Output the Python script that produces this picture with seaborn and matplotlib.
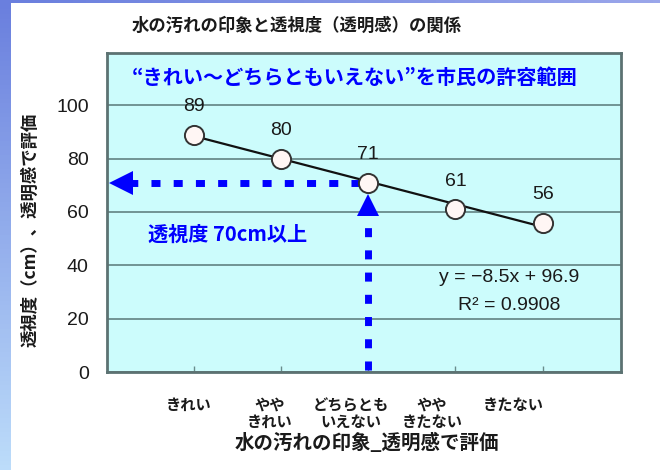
import numpy as np
import pandas as pd
import matplotlib
matplotlib.use("Agg")
import matplotlib.pyplot as plt
from matplotlib.colors import LinearSegmentedColormap
import seaborn as sns

# ---- data ----
categories = ["きれい", "やや\nきれい", "どちらとも\nいえない", "やや\nきたない", "きたない"]
x_pos = [1, 2, 3, 4, 5]
transparency = [89, 80, 71, 61, 56]
y_ticks = [0, 20, 40, 60, 80, 100]
title = "水の汚れの印象と透視度（透明感）の関係"
xlabel = "水の汚れの印象_透明感で評価"
ylabel = "透視度（cm）、透明感で評価"
note_top = "“きれい〜どちらともいえない”を市民の許容範囲"
note_left = "透視度 70cm以上"
threshold = 71

df = pd.DataFrame({"x": x_pos, "y": transparency})

sns.set_theme(style="white")
plt.rcParams["font.family"] = ["Noto Sans CJK JP", "DejaVu Sans"]

fig = plt.figure(figsize=(6.6, 4.7), dpi=100)
fig.patch.set_facecolor("white")

# decorative gradient strips (left and top)
strip = fig.add_axes([0, 0, 0.016, 1])
cmap = LinearSegmentedColormap.from_list("g", ["#6a7fde", "#bcdcfa"])
strip.imshow(np.linspace(0, 1, 100).reshape(-1, 1), aspect="auto", cmap=cmap)
strip.axis("off")
top = fig.add_axes([0, 0.994, 1, 0.006])
cmap2 = LinearSegmentedColormap.from_list("g2", ["#6a7fde", "#9aa6ea"])
top.imshow(np.linspace(0, 1, 100).reshape(1, -1), aspect="auto", cmap=cmap2)
top.axis("off")

ax = fig.add_axes([0.162, 0.2085, 0.779, 0.6785])
ax.set_facecolor("#ccfcfc")
ax.set_xlim(0, 5.9)
ax.set_ylim(0, 119.5)

# gridlines
ax.set_yticks(y_ticks)
ax.yaxis.grid(True, color="#6a8c8c", lw=1.3)
ax.set_axisbelow(True)
for s in ax.spines.values():
    s.set_color("#5c7272")
    s.set_linewidth(2)

# trend line and markers
sns.regplot(data=df, x="x", y="y", ci=None, scatter=False, ax=ax,
            line_kws=dict(color="#111111", lw=1.6, zorder=3))
sns.scatterplot(data=df, x="x", y="y", ax=ax, s=190, color="#fff6f4",
                edgecolor="#333333", linewidth=1.4, zorder=4, legend=False)

for xv, yv in zip(x_pos, transparency):
    ax.annotate(str(yv), (xv, yv), xytext=(0, 14), textcoords="offset points",
                ha="center", va="bottom", fontsize=14, color="#1a1a1a",
                family=["Liberation Sans", "DejaVu Sans"])

# blue dotted arrows
blue = "#0000ff"
ax.plot([x_pos[2] - 0.1, 0.28], [threshold, threshold], color=blue, lw=5,
        ls=(0, (1.3, 1.9)), solid_capstyle="butt", dash_capstyle="butt", zorder=2)
ax.plot([0.16], [threshold], marker="<", ms=17, color=blue, mew=0, zorder=5,
        clip_on=False)
ax.plot([x_pos[2], x_pos[2]], [0.6, threshold - 12.5], color=blue, lw=5,
        ls=(0, (1.3, 1.9)), dash_capstyle="butt", zorder=2)
ax.plot([x_pos[2]], [threshold - 8.5], marker="^", ms=16, color=blue, mew=0, zorder=5)

# annotations
ax.text(0.482, 0.925, note_top, transform=ax.transAxes, ha="center", va="center",
        fontsize=14.5, fontweight="bold", color=blue)
ax.text(0.47, 51.7, note_left, ha="left", va="center", fontsize=14.5,
        fontweight="bold", color=blue)
ax.text(4.62, 35.3, "y = \u22128.5x + 96.9", ha="center", va="center",
        fontsize=14, color="#1a1a1a", family=["Liberation Sans", "DejaVu Sans"])
ax.text(4.62, 24.9, "R² = 0.9908", ha="center", va="center",
        fontsize=14, color="#1a1a1a", family=["Liberation Sans", "DejaVu Sans"])

# axis ticks / labels
ax.set_yticklabels([str(t) for t in y_ticks], fontsize=14, color="#1a1a1a",
                   family=["Liberation Sans", "DejaVu Sans"])
ax.tick_params(axis="y", length=0, pad=13)
label_shift = 0.933
ax.set_xticks([p * label_shift for p in x_pos])
ax.set_xticklabels(categories, fontsize=11, fontweight="bold", color="#1a1a1a",
                   linespacing=1.1, va="top")
ax.tick_params(axis="x", which="major", length=0, pad=18)
ax.set_xticks(x_pos, minor=True)
ax.tick_params(axis="x", which="minor", direction="in", length=4, width=1,
               color="#6a8c8c", bottom=True)
ax.set_xlabel("")
ax.set_ylabel("")

fig.text(0.45, 0.945, title, ha="center", va="center", fontsize=12.5,
         fontweight="bold", color="#1a1a1a")
fig.text(0.556, 0.058, xlabel, ha="center", va="center", fontsize=14,
         fontweight="bold", color="#1a1a1a")
fig.text(0.046, 0.51, ylabel, ha="center", va="center", rotation=90,
         fontsize=12.5, fontweight="bold", color="#1a1a1a")

fig.savefig("out.png", dpi=100)
